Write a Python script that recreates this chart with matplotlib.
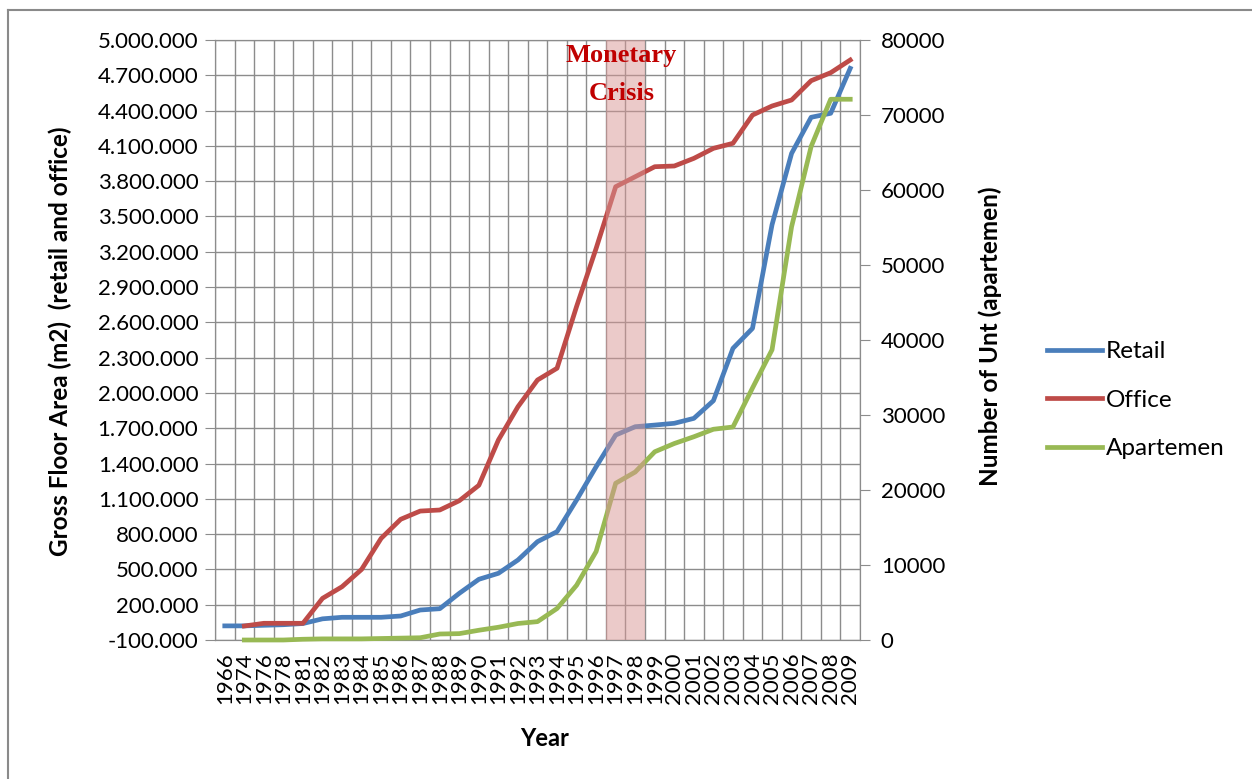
import numpy as np
import matplotlib
matplotlib.use("Agg")
import matplotlib.pyplot as plt
from matplotlib.lines import Line2D

plt.rcParams['font.family'] = ['Lato', 'DejaVu Sans']

# Data
years = ['1966', '1974', '1976', '1978', '1981', '1982', '1983', '1984', '1985',
         '1986', '1987', '1988', '1989', '1990', '1991', '1992', '1993', '1994',
         '1995', '1996', '1997', '1998', '1999', '2000', '2001', '2002', '2003',
         '2004', '2005', '2006', '2007', '2008', '2009']

# gross floor area, m2
retail = [20000, 20000, 25000, 30000, 40000, 80000, 93000, 93000, 93000,
          104000, 155000, 166000, 297000, 416000, 467000, 580000, 736000, 821000,
          1090000, 1373000, 1642000, 1713000, 1727000, 1742000, 1784000, 1934000, 2379000,
          2549000, 3430000, 4036000, 4343000, 4377000, 4759000]
office = [np.nan, 19000, 42000, 42000, 42000, 254000, 353000, 500000, 764000,
          926000, 996000, 1005000, 1084000, 1215000, 1600000, 1883000, 2110000, 2210000,
          2735000, 3229000, 3753000, 3838000, 3923000, 3929000, 3994000, 4079000, 4122000,
          4362000, 4439000, 4490000, 4654000, 4722000, 4830000]

# number of units
apartemen = [np.nan, 0, 0, 0, 100, 150, 150, 150, 200,
             250, 300, 800, 850, 1300, 1700, 2200, 2450, 4200,
             7300, 11800, 20900, 22400, 25100, 26200, 27100, 28100, 28400,
             33600, 38700, 55100, 65800, 72100, 72100]

crisis_years = ['1997', '1998']

W, H = 1252, 779
fig = plt.figure(figsize=(W / 100, H / 100), dpi=100)
ax = fig.add_axes([215 / W, 1 - 640 / H, 645 / W, 600 / H])

grey = '#8c8c8c'
x = np.arange(len(years))

ax.plot(x, retail, color='#4A7EBB', lw=3.4, label='Retail', clip_on=False, zorder=3)
ax.plot(x, office, color='#BE4B48', lw=3.4, label='Office', clip_on=False, zorder=3)

ax.set_xlim(-0.5, len(years) - 0.5)
ax.set_ylim(-100000, 5000000)
yt = np.arange(-100000, 5000001, 300000)
ax.set_yticks(yt)
ax.set_yticklabels([f'{v:,.0f}'.replace(',', '.') for v in yt], fontsize=16)
ax.set_xticks(x)
ax.set_xticklabels(years, rotation=90, fontsize=16)
ax.set_xticks(np.arange(-0.5, len(years)), minor=True)
ax.tick_params(axis='x', which='both', length=0, pad=9)
ax.tick_params(axis='y', length=7, color=grey, pad=5)
ax.grid(axis='y', color=grey, lw=1)
ax.grid(axis='x', which='minor', color=grey, lw=1)
ax.set_axisbelow(True)
for s in ax.spines.values():
    s.set_color(grey)

ax2 = ax.twinx()
ax2.plot(x, apartemen, color='#98B954', lw=3.4, label='Apartemen', clip_on=False, zorder=3)
ax2.set_ylim(0, 80000)
ax2.set_yticks(np.arange(0, 80001, 10000))
ax2.set_yticklabels([str(v) for v in range(0, 80001, 10000)], fontsize=16)
ax2.tick_params(axis='y', length=7, color=grey, pad=8)
for s in ax2.spines.values():
    s.set_color(grey)

# shaded crisis band over the lines
i0 = years.index(crisis_years[0])
i1 = years.index(crisis_years[-1])
ax2.axvspan(i0 - 0.5, i1 + 0.5, color='#D99694', alpha=0.5, lw=0, zorder=5)
ax2.text((i0 + i1) / 2 - 0.2, 0.993, 'Monetary\nCrisis', transform=ax2.get_xaxis_transform(),
         ha='center', va='top', fontsize=19, fontweight='bold', color='#C00000',
         family='Liberation Serif', linespacing=1.8, zorder=6)

# axis titles
fig.text(60 / W, 1 - 341 / H, 'Gross Floor Area (m2)  (retail and office)', rotation=90,
         ha='center', va='center', fontsize=17.5, fontweight='bold')
fig.text(990 / W, 1 - 336 / H, 'Number of Unt (apartemen)', rotation=90,
         ha='center', va='center', fontsize=17.5, fontweight='bold')
fig.text(545 / W, 1 - 738 / H, 'Year', ha='center', va='center', fontsize=17, fontweight='bold')

# legend
h1, l1 = ax.get_legend_handles_labels()
h2, l2 = ax2.get_legend_handles_labels()
fig.legend(h1 + h2, l1 + l2, loc='upper left', bbox_to_anchor=(1047 / W, 1 - 341 / H),
           frameon=False, fontsize=17.5, handlelength=2.25, handletextpad=0.17,
           labelspacing=1.14, borderpad=0, borderaxespad=0)

# chart frame
fig.add_artist(Line2D([8 / W, 8 / W], [0, 1 - 10 / H], transform=fig.transFigure, color='#8a8a8a', lw=1.5))
fig.add_artist(Line2D([8 / W, 1], [1 - 10 / H, 1 - 10 / H], transform=fig.transFigure, color='#8a8a8a', lw=1.5))

fig.savefig('out.png', dpi=100)
